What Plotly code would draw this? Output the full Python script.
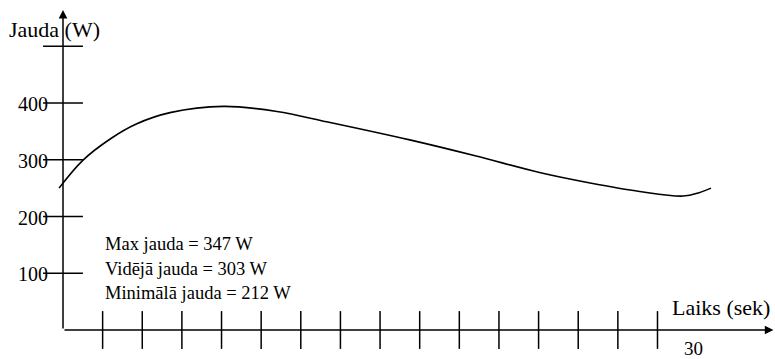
import plotly.graph_objects as go

# Curve data (time in seconds, power in W)
time_s = [-0.2, 1.0, 2.4, 3.7, 5.4, 8.1, 10.8, 13.3, 17.5, 20.8, 24.1, 26.6, 29.1, 31.3, 32.1, 32.7]
power_w = [250, 299, 337, 363, 383, 394, 385, 367, 335, 307, 277, 259, 244, 236, 242, 250]

# Axis ticks
x_tick_vals = [2, 4, 6, 8, 10, 12, 14, 16, 18, 20, 22, 24, 26, 28, 30]
y_tick_vals = [100, 200, 300, 400, 500]
y_tick_labels = ["100", "200", "300", "400", ""]
x_label_value = 31.8
x_label_text = "30"

stats_lines = ["Max jauda = 347 W", "Vidējā jauda = 303 W", "Minimālā jauda = 212 W"]

W, H = 775, 359
X_RANGE = [-3.179, 35.93]
Y_RANGE = [-51.1, 581.5]
FONT = "Liberation Serif"

fig = go.Figure()

# curve
fig.add_trace(go.Scatter(
    x=time_s, y=power_w, mode="lines",
    line=dict(color="black", width=1.6, shape="spline", smoothing=1.0),
    hoverinfo="skip", showlegend=False))

# x tick marks (crossing the axis)
fig.add_trace(go.Scatter(
    x=x_tick_vals, y=[0] * len(x_tick_vals), mode="markers",
    marker=dict(symbol="line-ns", size=27, line=dict(color="black", width=1.5)),
    hoverinfo="skip", showlegend=False, cliponaxis=False))

# y tick marks (crossing the axis)
fig.add_trace(go.Scatter(
    x=[0] * len(y_tick_vals), y=y_tick_vals, mode="markers",
    marker=dict(symbol="line-ew", size=28.5, line=dict(color="black", width=1.5)),
    hoverinfo="skip", showlegend=False, cliponaxis=False))

annotations = []
# axis lines with arrowheads
annotations.append(dict(x=0, y=564, ax=0, ay=0, xref="x", yref="y", axref="x", ayref="y",
                        text="", showarrow=True, arrowhead=2, arrowsize=1.15,
                        arrowwidth=1.5, arrowcolor="black"))
annotations.append(dict(x=35.85, y=0, ax=0, ay=0, xref="x", yref="y", axref="x", ayref="y",
                        text="", showarrow=True, arrowhead=2, arrowsize=1.15,
                        arrowwidth=1.5, arrowcolor="black"))

# y tick labels
for v, lab in zip(y_tick_vals, y_tick_labels):
    if lab:
        annotations.append(dict(x=-0.65, y=v, xref="x", yref="y", text=lab, showarrow=False,
                                xanchor="right", yanchor="middle", yshift=-1,
                                font=dict(family=FONT, size=20, color="black")))

# x label "30"
annotations.append(dict(x=x_label_value, y=0, xref="x", yref="y", text=x_label_text,
                        showarrow=False, xanchor="center", yanchor="middle", yshift=-18,
                        borderpad=0,
                        font=dict(family=FONT, size=19, color="black")))

# axis titles
annotations.append(dict(x=7 / W, y=1 - 29 / H, xref="paper", yref="paper", text="Jauda (W)",
                        showarrow=False, xanchor="left", yanchor="middle",
                        font=dict(family=FONT, size=22, color="black")))
annotations.append(dict(x=670 / W, y=1 - 307 / H, xref="paper", yref="paper", text="Laiks (sek)",
                        showarrow=False, xanchor="left", yanchor="middle",
                        font=dict(family=FONT, size=22, color="black")))

# statistics block
for i, line in enumerate(stats_lines):
    annotations.append(dict(x=103 / W, y=1 - (244 + 24.5 * i) / H, xref="paper", yref="paper",
                            text=line, showarrow=False, xanchor="left", yanchor="middle",
                            font=dict(family=FONT, size=18.5, color="black")))

fig.update_layout(
    width=W, height=H, autosize=False,
    margin=dict(l=0, r=0, t=0, b=0, pad=0),
    paper_bgcolor="white", plot_bgcolor="white",
    xaxis=dict(range=X_RANGE, visible=False, fixedrange=True),
    yaxis=dict(range=Y_RANGE, visible=False, fixedrange=True),
    annotations=annotations,
    showlegend=False,
)

fig.write_html("out.html", config={"displayModeBar": False},
               post_script="document.body.style.margin='0px';document.body.style.overflow='hidden';")
